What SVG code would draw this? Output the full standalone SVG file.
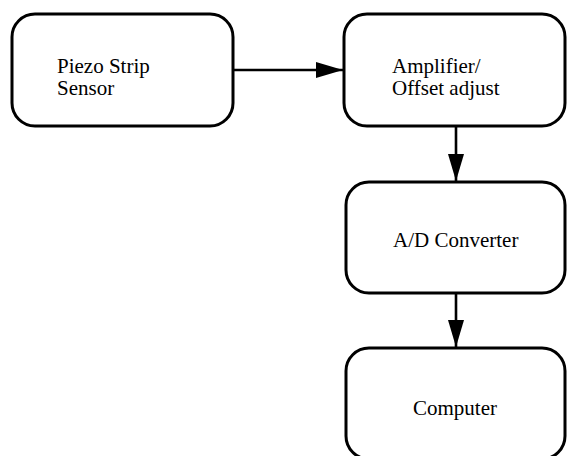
<svg xmlns="http://www.w3.org/2000/svg" width="567" height="456" viewBox="0 0 567 456">
  <style>
    .box { fill: #ffffff; stroke: #000000; stroke-width: 3; }
    .lbl { font-family: "Liberation Serif", "Times New Roman", serif; font-size: 21px; fill: #000000; }
    .wire { stroke: #000000; stroke-width: 2.6; fill: none; }
  </style>
  <defs>
    <marker id="head" viewBox="0 0 27 16" refX="27" refY="8" markerWidth="27" markerHeight="16" markerUnits="userSpaceOnUse" orient="auto">
      <path d="M0,0 L27,8 L0,16 Z" fill="#000000"/>
    </marker>
  </defs>
  <rect width="567" height="456" fill="#ffffff"/>

  <g id="piezo-sensor">
    <rect class="box" x="12" y="14" width="221" height="112" rx="23" ry="23"/>
    <text class="lbl" x="57" y="73">Piezo Strip</text>
    <text class="lbl" x="57" y="95">Sensor</text>
  </g>

  <g id="amplifier">
    <rect class="box" x="344" y="14" width="221" height="112" rx="23" ry="23"/>
    <text class="lbl" x="392" y="73">Amplifier/</text>
    <text class="lbl" x="392" y="95">Offset adjust</text>
  </g>

  <g id="ad-converter">
    <rect class="box" x="346" y="182" width="219" height="111" rx="23" ry="23"/>
    <text class="lbl" x="393" y="247">A/D Converter</text>
  </g>

  <g id="computer">
    <rect class="box" x="346" y="348" width="219" height="111" rx="23" ry="23"/>
    <text class="lbl" x="413" y="415">Computer</text>
  </g>

  <g id="connectors">
    <line class="wire" x1="233" y1="70" x2="343" y2="70" marker-end="url(#head)"/>
    <line class="wire" x1="456" y1="126" x2="456" y2="181" marker-end="url(#head)"/>
    <line class="wire" x1="456" y1="293" x2="456" y2="347" marker-end="url(#head)"/>
  </g>
</svg>
